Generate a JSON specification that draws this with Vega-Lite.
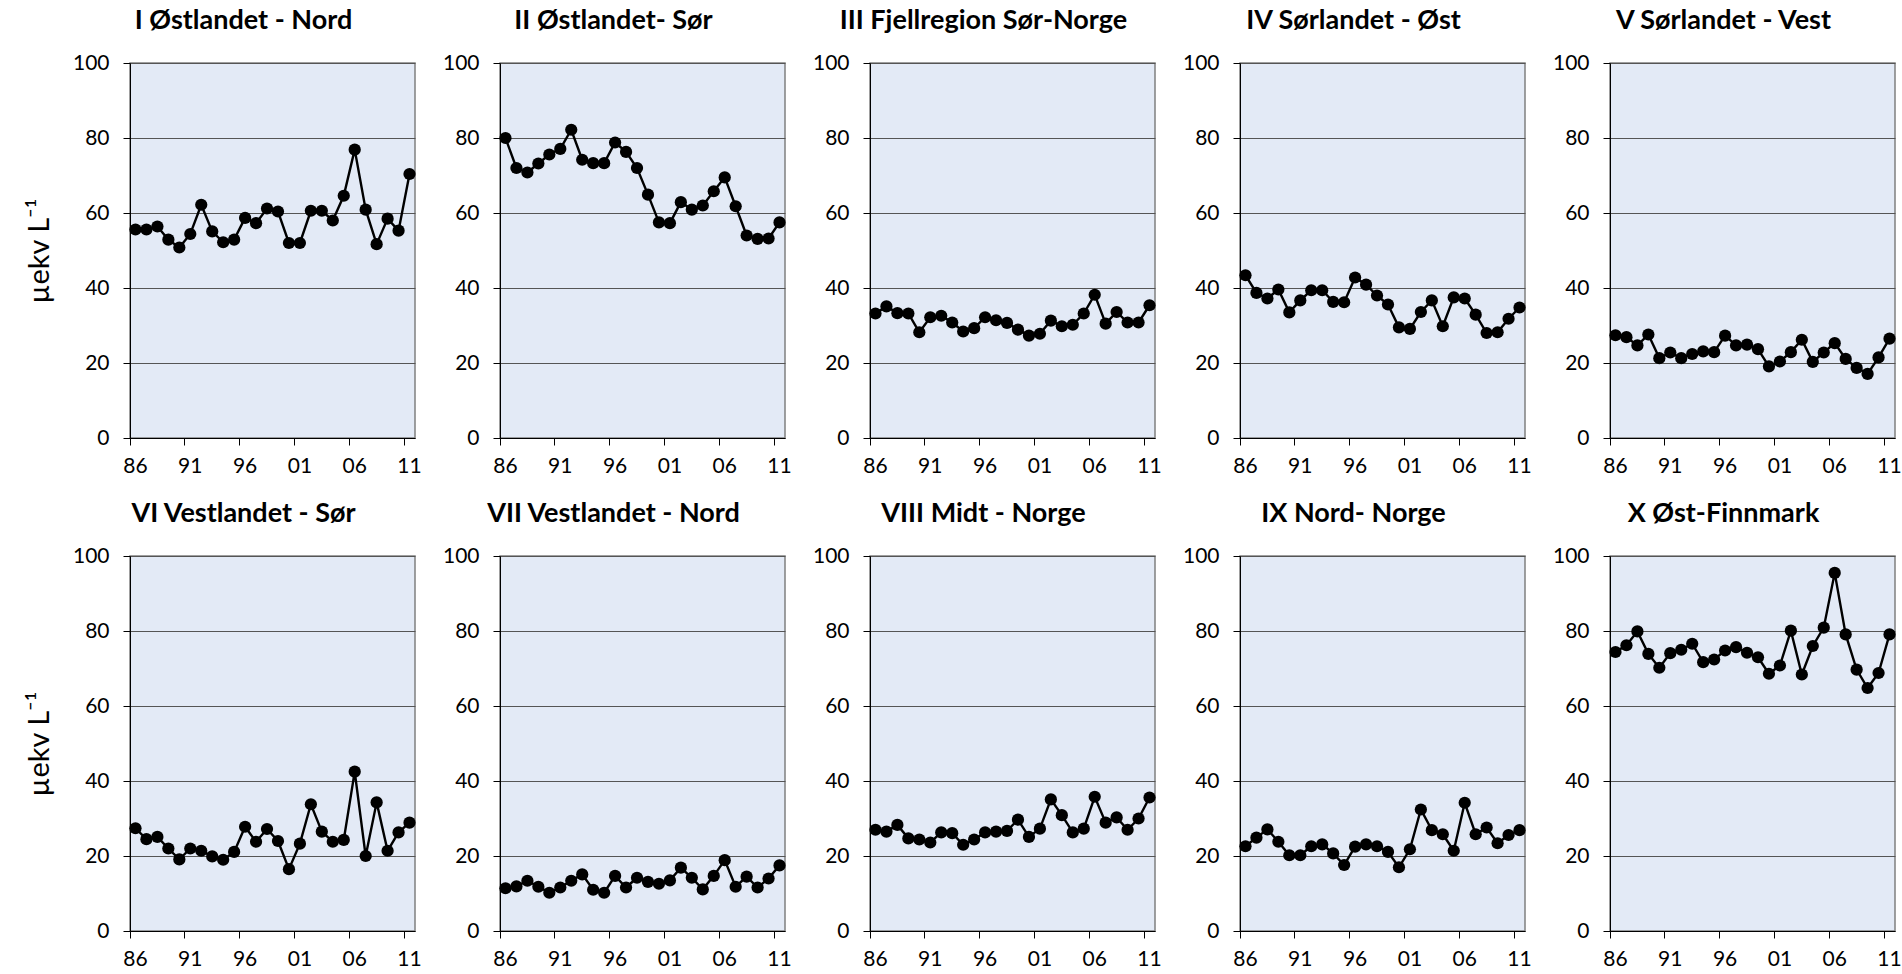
{
  "$schema": "https://vega.github.io/schema/vega-lite/v6.json",
  "background": "white",
  "padding": {"left": 24, "top": 6, "right": 5, "bottom": 5},
  "config": {
    "font": "Lato",
    "view": {"fill": "#E3EAF6", "stroke": "#808080", "strokeWidth": 1.5},
    "title": {"fontSize": 27, "fontWeight": "bold", "color": "black", "anchor": "middle", "frame": "group", "dx": -29, "offset": 17, "font": "Lato"},
    "axis": {"labelFontSize": 21, "labelColor": "black", "domainColor": "black", "tickColor": "black", "tickSize": 7, "titleFontSize": 29, "titleFontWeight": "normal", "titleColor": "black", "labelFont": "Lato", "titleFont": "Lato"},
    "axisY": {"gridColor": "#555555", "gridWidth": 1, "labelPadding": 14, "titlePadding": 18},
    "axisX": {"grid": false, "labelPadding": 10, "labelAngle": 0, "bandPosition": 0}
  },
  "data": {"values": [
    {"id":1,"year":1986,"v":55.6},{"id":1,"year":1987,"v":55.6},{"id":1,"year":1988,"v":56.4},{"id":1,"year":1989,"v":52.9},{"id":1,"year":1990,"v":50.8},{"id":1,"year":1991,"v":54.4},{"id":1,"year":1992,"v":62.2},{"id":1,"year":1993,"v":55.1},{"id":1,"year":1994,"v":52.2},{"id":1,"year":1995,"v":52.9},{"id":1,"year":1996,"v":58.7},{"id":1,"year":1997,"v":57.3},{"id":1,"year":1998,"v":61.2},{"id":1,"year":1999,"v":60.4},{"id":1,"year":2000,"v":52.0},{"id":1,"year":2001,"v":52.0},{"id":1,"year":2002,"v":60.6},{"id":1,"year":2003,"v":60.6},{"id":1,"year":2004,"v":58.0},{"id":1,"year":2005,"v":64.6},{"id":1,"year":2006,"v":76.9},{"id":1,"year":2007,"v":60.9},{"id":1,"year":2008,"v":51.7},{"id":1,"year":2009,"v":58.5},{"id":1,"year":2010,"v":55.3},{"id":1,"year":2011,"v":70.4},
    {"id":2,"year":1986,"v":80.0},{"id":2,"year":1987,"v":72.0},{"id":2,"year":1988,"v":70.8},{"id":2,"year":1989,"v":73.2},{"id":2,"year":1990,"v":75.6},{"id":2,"year":1991,"v":77.1},{"id":2,"year":1992,"v":82.2},{"id":2,"year":1993,"v":74.2},{"id":2,"year":1994,"v":73.3},{"id":2,"year":1995,"v":73.3},{"id":2,"year":1996,"v":78.8},{"id":2,"year":1997,"v":76.3},{"id":2,"year":1998,"v":72.0},{"id":2,"year":1999,"v":64.9},{"id":2,"year":2000,"v":57.5},{"id":2,"year":2001,"v":57.3},{"id":2,"year":2002,"v":62.9},{"id":2,"year":2003,"v":60.9},{"id":2,"year":2004,"v":62.0},{"id":2,"year":2005,"v":65.8},{"id":2,"year":2006,"v":69.5},{"id":2,"year":2007,"v":61.8},{"id":2,"year":2008,"v":54.0},{"id":2,"year":2009,"v":53.1},{"id":2,"year":2010,"v":53.2},{"id":2,"year":2011,"v":57.5},
    {"id":3,"year":1986,"v":33.2},{"id":3,"year":1987,"v":35.1},{"id":3,"year":1988,"v":33.3},{"id":3,"year":1989,"v":33.2},{"id":3,"year":1990,"v":28.2},{"id":3,"year":1991,"v":32.2},{"id":3,"year":1992,"v":32.6},{"id":3,"year":1993,"v":30.8},{"id":3,"year":1994,"v":28.4},{"id":3,"year":1995,"v":29.3},{"id":3,"year":1996,"v":32.2},{"id":3,"year":1997,"v":31.4},{"id":3,"year":1998,"v":30.7},{"id":3,"year":1999,"v":28.9},{"id":3,"year":2000,"v":27.3},{"id":3,"year":2001,"v":27.8},{"id":3,"year":2002,"v":31.3},{"id":3,"year":2003,"v":29.8},{"id":3,"year":2004,"v":30.2},{"id":3,"year":2005,"v":33.2},{"id":3,"year":2006,"v":38.2},{"id":3,"year":2007,"v":30.5},{"id":3,"year":2008,"v":33.6},{"id":3,"year":2009,"v":30.8},{"id":3,"year":2010,"v":30.8},{"id":3,"year":2011,"v":35.4},
    {"id":4,"year":1986,"v":43.4},{"id":4,"year":1987,"v":38.7},{"id":4,"year":1988,"v":37.2},{"id":4,"year":1989,"v":39.6},{"id":4,"year":1990,"v":33.5},{"id":4,"year":1991,"v":36.7},{"id":4,"year":1992,"v":39.4},{"id":4,"year":1993,"v":39.4},{"id":4,"year":1994,"v":36.3},{"id":4,"year":1995,"v":36.2},{"id":4,"year":1996,"v":42.8},{"id":4,"year":1997,"v":40.9},{"id":4,"year":1998,"v":38.0},{"id":4,"year":1999,"v":35.6},{"id":4,"year":2000,"v":29.5},{"id":4,"year":2001,"v":29.1},{"id":4,"year":2002,"v":33.6},{"id":4,"year":2003,"v":36.7},{"id":4,"year":2004,"v":29.8},{"id":4,"year":2005,"v":37.5},{"id":4,"year":2006,"v":37.2},{"id":4,"year":2007,"v":32.9},{"id":4,"year":2008,"v":28.0},{"id":4,"year":2009,"v":28.2},{"id":4,"year":2010,"v":31.8},{"id":4,"year":2011,"v":34.8},
    {"id":5,"year":1986,"v":27.4},{"id":5,"year":1987,"v":26.9},{"id":5,"year":1988,"v":24.7},{"id":5,"year":1989,"v":27.6},{"id":5,"year":1990,"v":21.3},{"id":5,"year":1991,"v":22.8},{"id":5,"year":1992,"v":21.3},{"id":5,"year":1993,"v":22.4},{"id":5,"year":1994,"v":23.1},{"id":5,"year":1995,"v":22.9},{"id":5,"year":1996,"v":27.3},{"id":5,"year":1997,"v":24.7},{"id":5,"year":1998,"v":24.9},{"id":5,"year":1999,"v":23.7},{"id":5,"year":2000,"v":19.1},{"id":5,"year":2001,"v":20.4},{"id":5,"year":2002,"v":22.9},{"id":5,"year":2003,"v":26.2},{"id":5,"year":2004,"v":20.3},{"id":5,"year":2005,"v":22.8},{"id":5,"year":2006,"v":25.3},{"id":5,"year":2007,"v":21.1},{"id":5,"year":2008,"v":18.7},{"id":5,"year":2009,"v":17.1},{"id":5,"year":2010,"v":21.5},{"id":5,"year":2011,"v":26.5},
    {"id":6,"year":1986,"v":27.4},{"id":6,"year":1987,"v":24.5},{"id":6,"year":1988,"v":25.1},{"id":6,"year":1989,"v":22.0},{"id":6,"year":1990,"v":19.1},{"id":6,"year":1991,"v":22.0},{"id":6,"year":1992,"v":21.4},{"id":6,"year":1993,"v":19.9},{"id":6,"year":1994,"v":19.0},{"id":6,"year":1995,"v":21.1},{"id":6,"year":1996,"v":27.8},{"id":6,"year":1997,"v":23.8},{"id":6,"year":1998,"v":27.2},{"id":6,"year":1999,"v":24.0},{"id":6,"year":2000,"v":16.5},{"id":6,"year":2001,"v":23.3},{"id":6,"year":2002,"v":33.8},{"id":6,"year":2003,"v":26.5},{"id":6,"year":2004,"v":23.8},{"id":6,"year":2005,"v":24.3},{"id":6,"year":2006,"v":42.5},{"id":6,"year":2007,"v":20.0},{"id":6,"year":2008,"v":34.3},{"id":6,"year":2009,"v":21.4},{"id":6,"year":2010,"v":26.3},{"id":6,"year":2011,"v":28.9},
    {"id":7,"year":1986,"v":11.4},{"id":7,"year":1987,"v":11.9},{"id":7,"year":1988,"v":13.4},{"id":7,"year":1989,"v":11.8},{"id":7,"year":1990,"v":10.2},{"id":7,"year":1991,"v":11.6},{"id":7,"year":1992,"v":13.4},{"id":7,"year":1993,"v":15.1},{"id":7,"year":1994,"v":11.0},{"id":7,"year":1995,"v":10.2},{"id":7,"year":1996,"v":14.7},{"id":7,"year":1997,"v":11.6},{"id":7,"year":1998,"v":14.2},{"id":7,"year":1999,"v":13.1},{"id":7,"year":2000,"v":12.6},{"id":7,"year":2001,"v":13.5},{"id":7,"year":2002,"v":16.9},{"id":7,"year":2003,"v":14.2},{"id":7,"year":2004,"v":11.1},{"id":7,"year":2005,"v":14.7},{"id":7,"year":2006,"v":18.9},{"id":7,"year":2007,"v":11.8},{"id":7,"year":2008,"v":14.5},{"id":7,"year":2009,"v":11.6},{"id":7,"year":2010,"v":14.0},{"id":7,"year":2011,"v":17.5},
    {"id":8,"year":1986,"v":27.0},{"id":8,"year":1987,"v":26.5},{"id":8,"year":1988,"v":28.3},{"id":8,"year":1989,"v":24.7},{"id":8,"year":1990,"v":24.4},{"id":8,"year":1991,"v":23.6},{"id":8,"year":1992,"v":26.3},{"id":8,"year":1993,"v":26.1},{"id":8,"year":1994,"v":23.0},{"id":8,"year":1995,"v":24.4},{"id":8,"year":1996,"v":26.3},{"id":8,"year":1997,"v":26.5},{"id":8,"year":1998,"v":26.7},{"id":8,"year":1999,"v":29.7},{"id":8,"year":2000,"v":25.1},{"id":8,"year":2001,"v":27.3},{"id":8,"year":2002,"v":35.1},{"id":8,"year":2003,"v":30.9},{"id":8,"year":2004,"v":26.3},{"id":8,"year":2005,"v":27.3},{"id":8,"year":2006,"v":35.8},{"id":8,"year":2007,"v":28.9},{"id":8,"year":2008,"v":30.3},{"id":8,"year":2009,"v":27.0},{"id":8,"year":2010,"v":30.0},{"id":8,"year":2011,"v":35.6},
    {"id":9,"year":1986,"v":22.6},{"id":9,"year":1987,"v":24.9},{"id":9,"year":1988,"v":27.1},{"id":9,"year":1989,"v":23.8},{"id":9,"year":1990,"v":20.2},{"id":9,"year":1991,"v":20.2},{"id":9,"year":1992,"v":22.6},{"id":9,"year":1993,"v":23.1},{"id":9,"year":1994,"v":20.7},{"id":9,"year":1995,"v":17.6},{"id":9,"year":1996,"v":22.5},{"id":9,"year":1997,"v":23.1},{"id":9,"year":1998,"v":22.6},{"id":9,"year":1999,"v":21.1},{"id":9,"year":2000,"v":17.0},{"id":9,"year":2001,"v":21.8},{"id":9,"year":2002,"v":32.4},{"id":9,"year":2003,"v":26.9},{"id":9,"year":2004,"v":25.8},{"id":9,"year":2005,"v":21.4},{"id":9,"year":2006,"v":34.2},{"id":9,"year":2007,"v":25.8},{"id":9,"year":2008,"v":27.6},{"id":9,"year":2009,"v":23.4},{"id":9,"year":2010,"v":25.6},{"id":9,"year":2011,"v":26.9},
    {"id":10,"year":1986,"v":74.4},{"id":10,"year":1987,"v":76.2},{"id":10,"year":1988,"v":79.9},{"id":10,"year":1989,"v":73.9},{"id":10,"year":1990,"v":70.2},{"id":10,"year":1991,"v":74.1},{"id":10,"year":1992,"v":75.0},{"id":10,"year":1993,"v":76.6},{"id":10,"year":1994,"v":71.7},{"id":10,"year":1995,"v":72.4},{"id":10,"year":1996,"v":74.8},{"id":10,"year":1997,"v":75.7},{"id":10,"year":1998,"v":74.2},{"id":10,"year":1999,"v":73.0},{"id":10,"year":2000,"v":68.6},{"id":10,"year":2001,"v":70.8},{"id":10,"year":2002,"v":80.1},{"id":10,"year":2003,"v":68.4},{"id":10,"year":2004,"v":76.0},{"id":10,"year":2005,"v":80.9},{"id":10,"year":2006,"v":95.5},{"id":10,"year":2007,"v":79.1},{"id":10,"year":2008,"v":69.7},{"id":10,"year":2009,"v":64.8},{"id":10,"year":2010,"v":68.8},{"id":10,"year":2011,"v":79.1}
  ]},
  "columns": 5,
  "bounds": "flush",
  "spacing": {"row": 118, "column": 85},
  "concat": [
    {"title": "I Østlandet - Nord", "width": 285, "height": 375, "transform": [{"filter": "datum.id == 1"}],
     "encoding": {"x": {"field": "year", "type": "ordinal", "scale": {"type": "band", "paddingInner": 0, "paddingOuter": 0}, "axis": {"values": [1986,1991,1996,2001,2006,2011], "labelExpr": "substring(datum.label, 2)", "title": null}},
                  "y": {"field": "v", "type": "quantitative", "scale": {"domain": [0, 100], "nice": false}, "axis": {"values": [0,20,40,60,80,100], "title": "µekv L⁻¹"}}},
     "layer": [{"mark": {"type": "line", "color": "black", "strokeWidth": 2.4}}, {"mark": {"type": "point", "filled": true, "color": "black", "size": 150, "opacity": 1}}]},
    {"title": "II Østlandet- Sør", "width": 285, "height": 375, "transform": [{"filter": "datum.id == 2"}],
     "encoding": {"x": {"field": "year", "type": "ordinal", "scale": {"type": "band", "paddingInner": 0, "paddingOuter": 0}, "axis": {"values": [1986,1991,1996,2001,2006,2011], "labelExpr": "substring(datum.label, 2)", "title": null}},
                  "y": {"field": "v", "type": "quantitative", "scale": {"domain": [0, 100], "nice": false}, "axis": {"values": [0,20,40,60,80,100], "title": null}}},
     "layer": [{"mark": {"type": "line", "color": "black", "strokeWidth": 2.4}}, {"mark": {"type": "point", "filled": true, "color": "black", "size": 150, "opacity": 1}}]},
    {"title": "III Fjellregion Sør-Norge", "width": 285, "height": 375, "transform": [{"filter": "datum.id == 3"}],
     "encoding": {"x": {"field": "year", "type": "ordinal", "scale": {"type": "band", "paddingInner": 0, "paddingOuter": 0}, "axis": {"values": [1986,1991,1996,2001,2006,2011], "labelExpr": "substring(datum.label, 2)", "title": null}},
                  "y": {"field": "v", "type": "quantitative", "scale": {"domain": [0, 100], "nice": false}, "axis": {"values": [0,20,40,60,80,100], "title": null}}},
     "layer": [{"mark": {"type": "line", "color": "black", "strokeWidth": 2.4}}, {"mark": {"type": "point", "filled": true, "color": "black", "size": 150, "opacity": 1}}]},
    {"title": "IV Sørlandet - Øst", "width": 285, "height": 375, "transform": [{"filter": "datum.id == 4"}],
     "encoding": {"x": {"field": "year", "type": "ordinal", "scale": {"type": "band", "paddingInner": 0, "paddingOuter": 0}, "axis": {"values": [1986,1991,1996,2001,2006,2011], "labelExpr": "substring(datum.label, 2)", "title": null}},
                  "y": {"field": "v", "type": "quantitative", "scale": {"domain": [0, 100], "nice": false}, "axis": {"values": [0,20,40,60,80,100], "title": null}}},
     "layer": [{"mark": {"type": "line", "color": "black", "strokeWidth": 2.4}}, {"mark": {"type": "point", "filled": true, "color": "black", "size": 150, "opacity": 1}}]},
    {"title": "V Sørlandet - Vest", "width": 285, "height": 375, "transform": [{"filter": "datum.id == 5"}],
     "encoding": {"x": {"field": "year", "type": "ordinal", "scale": {"type": "band", "paddingInner": 0, "paddingOuter": 0}, "axis": {"values": [1986,1991,1996,2001,2006,2011], "labelExpr": "substring(datum.label, 2)", "title": null}},
                  "y": {"field": "v", "type": "quantitative", "scale": {"domain": [0, 100], "nice": false}, "axis": {"values": [0,20,40,60,80,100], "title": null}}},
     "layer": [{"mark": {"type": "line", "color": "black", "strokeWidth": 2.4}}, {"mark": {"type": "point", "filled": true, "color": "black", "size": 150, "opacity": 1}}]},
    {"title": "VI Vestlandet - Sør", "width": 285, "height": 375, "transform": [{"filter": "datum.id == 6"}],
     "encoding": {"x": {"field": "year", "type": "ordinal", "scale": {"type": "band", "paddingInner": 0, "paddingOuter": 0}, "axis": {"values": [1986,1991,1996,2001,2006,2011], "labelExpr": "substring(datum.label, 2)", "title": null}},
                  "y": {"field": "v", "type": "quantitative", "scale": {"domain": [0, 100], "nice": false}, "axis": {"values": [0,20,40,60,80,100], "title": "µekv L⁻¹"}}},
     "layer": [{"mark": {"type": "line", "color": "black", "strokeWidth": 2.4}}, {"mark": {"type": "point", "filled": true, "color": "black", "size": 150, "opacity": 1}}]},
    {"title": "VII Vestlandet - Nord", "width": 285, "height": 375, "transform": [{"filter": "datum.id == 7"}],
     "encoding": {"x": {"field": "year", "type": "ordinal", "scale": {"type": "band", "paddingInner": 0, "paddingOuter": 0}, "axis": {"values": [1986,1991,1996,2001,2006,2011], "labelExpr": "substring(datum.label, 2)", "title": null}},
                  "y": {"field": "v", "type": "quantitative", "scale": {"domain": [0, 100], "nice": false}, "axis": {"values": [0,20,40,60,80,100], "title": null}}},
     "layer": [{"mark": {"type": "line", "color": "black", "strokeWidth": 2.4}}, {"mark": {"type": "point", "filled": true, "color": "black", "size": 150, "opacity": 1}}]},
    {"title": "VIII Midt - Norge", "width": 285, "height": 375, "transform": [{"filter": "datum.id == 8"}],
     "encoding": {"x": {"field": "year", "type": "ordinal", "scale": {"type": "band", "paddingInner": 0, "paddingOuter": 0}, "axis": {"values": [1986,1991,1996,2001,2006,2011], "labelExpr": "substring(datum.label, 2)", "title": null}},
                  "y": {"field": "v", "type": "quantitative", "scale": {"domain": [0, 100], "nice": false}, "axis": {"values": [0,20,40,60,80,100], "title": null}}},
     "layer": [{"mark": {"type": "line", "color": "black", "strokeWidth": 2.4}}, {"mark": {"type": "point", "filled": true, "color": "black", "size": 150, "opacity": 1}}]},
    {"title": "IX Nord- Norge", "width": 285, "height": 375, "transform": [{"filter": "datum.id == 9"}],
     "encoding": {"x": {"field": "year", "type": "ordinal", "scale": {"type": "band", "paddingInner": 0, "paddingOuter": 0}, "axis": {"values": [1986,1991,1996,2001,2006,2011], "labelExpr": "substring(datum.label, 2)", "title": null}},
                  "y": {"field": "v", "type": "quantitative", "scale": {"domain": [0, 100], "nice": false}, "axis": {"values": [0,20,40,60,80,100], "title": null}}},
     "layer": [{"mark": {"type": "line", "color": "black", "strokeWidth": 2.4}}, {"mark": {"type": "point", "filled": true, "color": "black", "size": 150, "opacity": 1}}]},
    {"title": "X Øst-Finnmark", "width": 285, "height": 375, "transform": [{"filter": "datum.id == 10"}],
     "encoding": {"x": {"field": "year", "type": "ordinal", "scale": {"type": "band", "paddingInner": 0, "paddingOuter": 0}, "axis": {"values": [1986,1991,1996,2001,2006,2011], "labelExpr": "substring(datum.label, 2)", "title": null}},
                  "y": {"field": "v", "type": "quantitative", "scale": {"domain": [0, 100], "nice": false}, "axis": {"values": [0,20,40,60,80,100], "title": null}}},
     "layer": [{"mark": {"type": "line", "color": "black", "strokeWidth": 2.4}}, {"mark": {"type": "point", "filled": true, "color": "black", "size": 150, "opacity": 1}}]}
  ]
}
